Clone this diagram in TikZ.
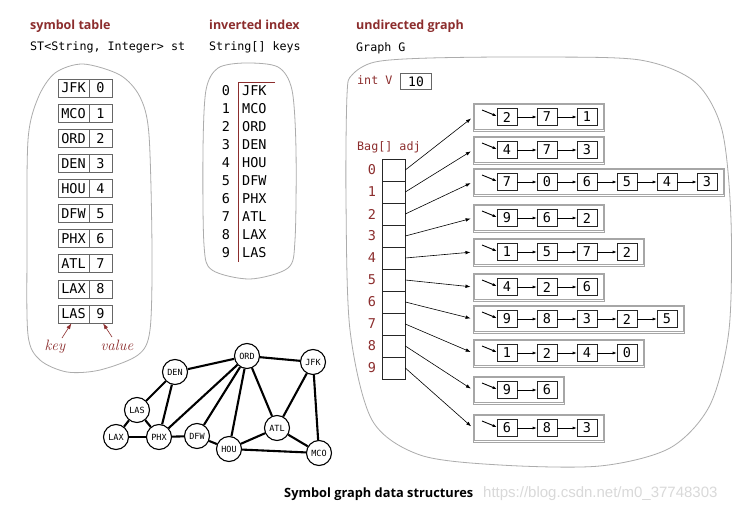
\documentclass[tikz,border=0pt]{standalone}
\usepackage{fontspec}
\setmainfont{DejaVu Sans}
\newfontfamily\titlefont{Open Sans}
\newfontfamily\codefont{DejaVu Sans Mono}
\newfontfamily\wmfont{Liberation Sans}
\newfontfamily\serifit{Latin Modern Roman}
\usetikzlibrary{arrows.meta}
\definecolor{dred}{HTML}{8C2D2D}
\begin{document}
\begin{tikzpicture}[x=1pt,y=-1pt,
  title/.style={anchor=base west,inner sep=0,text=dred,font=\titlefont\bfseries\fontsize{12.5}{14}\selectfont},
  code/.style={anchor=base west,inner sep=0,font=\codefont\fontsize{11.7}{13}\selectfont},
  blob/.style={draw=gray!65,line width=0.8pt},
  kbox/.style={draw=gray!80!black,line width=0.6pt,minimum width=31,minimum height=18,inner sep=0,font=\codefont\fontsize{13.5}{15}\selectfont},
  vbox/.style={kbox,minimum width=23},
  idx/.style={inner sep=0,font=\codefont\fontsize{13.5}{15}\selectfont},
  cell/.style={draw=black!85,line width=0.6pt,minimum width=23,minimum height=22,inner sep=0},
  listbox/.style={draw=gray!70,line width=0.5pt,minimum height=28,inner sep=0},
  item/.style={draw=black!85,line width=0.6pt,minimum width=20,minimum height=17,inner sep=0,font=\codefont\fontsize{13.5}{14}\selectfont},
  arr/.style={-{Latex[length=5pt,width=3.6pt]},line width=0.6pt},
  sarr/.style={-{Latex[length=4pt,width=3pt]},line width=0.6pt},
  redarr/.style={-{Latex[length=6pt,width=4pt]},draw=dred,line width=0.6pt},
  city/.style={circle,draw=black,line width=1.1pt,fill=white,minimum size=25,inner sep=0,font=\codefont\fontsize{8.5}{9}\selectfont},
  road/.style={line width=2.1pt}
]
\useasboundingbox[fill=white] (0,0) rectangle (740,514);

% ---------- symbol table ----------
\node[title] (t1) at (30,29) {symbol table};
\node[code] (c1) at (30,50) {ST<String, Integer> st};
\draw[blob] plot[smooth cycle] coordinates {(83,64) (120,75) (140,97) (149,135) (152,250) (150,330) (138,355) (100,370) (67,372) (40,360) (28,335) (27,250) (28,140) (38,98) (55,73)};
\foreach \k [count=\i from 0] in {JFK,MCO,ORD,DEN,HOU,DFW,PHX,ATL,LAX,LAS}{
  \node[kbox] (k\i) at (73.5,{88+25.1*\i}) {\k};
  \node[vbox] (v\i) at (100.5,{88+25.1*\i}) {\i};
}
\node[inner sep=0,text=dred,font=\serifit\itshape\fontsize{15}{16}\selectfont,anchor=base] (keyl) at (55,350) {key};
\node[inner sep=0,text=dred,font=\serifit\itshape\fontsize{15}{16}\selectfont,anchor=base] (vall) at (117,350) {value};
\coordinate (keytail) at (62,338);
\coordinate (valtail) at (112,337);
\draw[redarr] (keytail) -- ([xshift=-2pt]k9.south);
\draw[redarr] (valtail) -- ([xshift=2.5pt]v9.south);

% ---------- inverted index ----------
\node[title] (t2) at (209,30) {inverted index};
\node[code] (c2) at (209,50) {String[] keys};
\draw[blob] plot[smooth cycle] coordinates {(245,63) (278,67) (292,90) (296,150) (295,240) (288,268) (250,279) (212,270) (204,245) (203,150) (206,90) (218,68)};
\foreach \k [count=\i from 0] in {JFK,MCO,ORD,DEN,HOU,DFW,PHX,ATL,LAX,LAS}{
  \node[idx] (n\i) at (226,{91+17.9*\i}) {\i};
  \node[idx,anchor=west] (s\i) at (242,{91+17.9*\i}) {\k};
}
\coordinate (ia) at (275,82);
\coordinate (ib) at (238,82);
\coordinate (ic) at (238,262);
\draw[dred,line width=0.7pt] (ia) -- (ib) -- (ic);

% ---------- undirected graph ----------
\node[title] (t3) at (356,30) {undirected graph};
\node[code] (c3) at (356,51) {Graph G};
\draw[blob] plot[smooth cycle] coordinates {(347,95) (346,200) (350,330) (372,420) (420,455) (500,465) (600,466) (670,448) (710,405) (729,330) (731,220) (722,130) (695,82) (640,60) (540,57) (430,58) (375,62) (352,75)};
\node[code,text=dred] (iv) at (357,84) {int V};
\node[draw=gray!80!black,line width=0.6pt,minimum width=31,minimum height=16,inner sep=0,font=\codefont\fontsize{13}{14}\selectfont] (vv) at (416,81.5) {10};
\node[code,text=dred] (bag) at (357,150) {Bag[] adj};
\foreach \i in {0,...,9}{
  \node[cell] (a\i) at (393.5,{170+22*\i}) {};
  \node[idx,text=dred] (r\i) at (372,{170+22*\i}) {\i};
}
\foreach \c/\n/\items [count=\i from 0] in {117/3/{2,7,1},150/3/{4,7,3},182/6/{7,0,6,5,4,3},218/3/{9,6,2},252/4/{1,5,7,2},287/3/{4,2,6},319/5/{9,8,3,2,5},353/4/{1,2,4,0},390/2/{9,6},428/3/{6,8,3}}{
  \node[listbox,anchor=west,minimum width={51+40*(\n-1)}] (L\i) at (473,\c) {};
  \draw[gray!70,line width=0.5pt] ([shift={(1.7pt,-1.7pt)}]L\i.north west) rectangle ([shift={(-1.7pt,1.7pt)}]L\i.south east);
  \foreach \v [count=\j] in \items {
    \node[item] (l\i-\j) at ({507+40*(\j-1)},\c) {\v};
    \ifnum\j>1
      \pgfmathtruncatemacro\p{\j-1}
      \draw[sarr] (l\i-\p.east) -- (l\i-\j.west);
    \fi
  }
  \coordinate (h\i) at (482,\c-7);
  \draw[sarr,line width=0.9pt] (h\i) -- ([yshift=1pt]l\i-1.west);
  \draw[arr,shorten >=2.5pt] (a\i.east) -- (L\i.west);
}

% ---------- graph drawing ----------
\node[city] (ORD) at (247,356) {ORD};
\node[city] (JFK) at (313,362) {JFK};
\node[city] (DEN) at (175,372) {DEN};
\node[city] (LAS) at (137,410) {LAS};
\node[city] (LAX) at (116,437) {LAX};
\node[city] (PHX) at (159,437) {PHX};
\node[city] (DFW) at (197,436) {DFW};
\node[city] (HOU) at (229,449) {HOU};
\node[city] (ATL) at (277,428) {ATL};
\node[city] (MCO) at (319,453) {MCO};
\foreach \a/\b in {DEN/ORD,ORD/JFK,DEN/LAS,DEN/PHX,LAS/LAX,LAS/PHX,LAX/PHX,PHX/DFW,PHX/ORD,DFW/ORD,DFW/HOU,HOU/ORD,ORD/ATL,ATL/JFK,JFK/MCO,ATL/MCO,HOU/ATL,HOU/MCO}
  \draw[road] (\a) -- (\b);

% ---------- caption ----------
\node[inner sep=0,anchor=base west,font=\titlefont\bfseries\fontsize{12.8}{14}\selectfont] (cap) at (284,497) {Symbol graph data structures};
\node[inner sep=0,anchor=base west,text=gray!30,font=\wmfont\fontsize{15}{16}\selectfont] (wm) at (483,497) {https://blog.csdn.net/m0\_37748303};
\end{tikzpicture}
\end{document}
